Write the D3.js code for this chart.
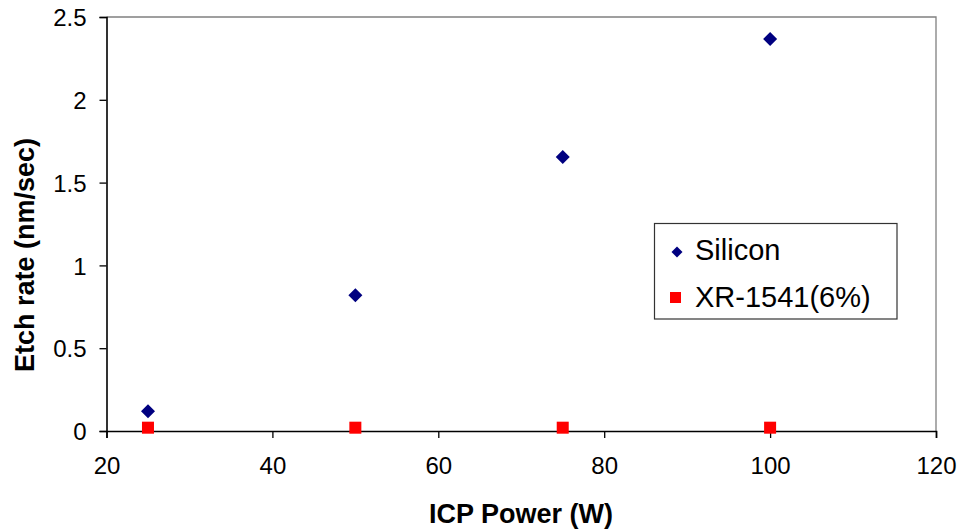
<!DOCTYPE html>
<html><head><meta charset="utf-8">
<script src="https://cdn.jsdelivr.net/npm/d3@7"></script>
<style>body{margin:0;background:#fff}svg{display:block}text{font-family:Arial,"Liberation Sans",sans-serif}</style>
</head><body>
<script>
const powers = [25, 50, 75, 100];
const silicon = [0.12, 0.82, 1.655, 2.367];
const xr1541 = [0.02, 0.02, 0.02, 0.02];
const seriesNames = ["Silicon", "XR-1541(6%)"];
const xTicks = [20, 40, 60, 80, 100, 120];
const yTicks = [0, 0.5, 1, 1.5, 2, 2.5];

const W = 963, H = 531;
const L = 106.5, R = 936, T = 17, B = 431;
const svg = d3.select("body").append("svg").attr("width", W).attr("height", H);
const x = d3.scaleLinear().domain([20, 120]).range([L, R]);
const y = d3.scaleLinear().domain([0, 2.5]).range([B, T]);

svg.append("path").attr("d", `M${L},${T}H${R}V${B}`).attr("fill","none").attr("stroke","#808080").attr("stroke-width",1.3);

const xAxis = svg.append("g").attr("transform", `translate(0,${B})`)
  .call(d3.axisBottom(x).tickValues(xTicks).tickSize(7).tickPadding(19).tickFormat(d3.format("d")));
const yAxis = svg.append("g").attr("transform", `translate(${L},0)`)
  .call(d3.axisLeft(y).tickValues(yTicks).tickSize(7).tickPadding(13).tickFormat(d => d));
[xAxis, yAxis].forEach(g => {
  g.select(".domain").attr("stroke","#000").attr("stroke-width",1.6);
  g.selectAll(".tick line").attr("stroke","#000").attr("stroke-width",1.3);
  g.selectAll(".tick text").attr("font-size",24).attr("fill","#000").style("font-family","Arial, 'Liberation Sans', sans-serif");
});
yAxis.selectAll(".tick text").attr("dy","0.36em");

function diamondPath(s){ return `M0,${-s}L${s},0L0,${s}L${-s},0Z`; }

svg.append("g").selectAll("path").data(powers).join("path")
  .attr("d", diamondPath(7))
  .attr("transform", (d,i) => `translate(${x(d)},${y(silicon[i])})`)
  .attr("fill","#000080");
svg.append("g").selectAll("rect").data(powers).join("rect")
  .attr("x", d => x(d) - 6).attr("y", (d,i) => y(xr1541[i]) - 6)
  .attr("width",12).attr("height",12).attr("fill","#ff0000");

svg.append("text").attr("x",521).attr("y",523).attr("text-anchor","middle")
  .attr("font-size",27).attr("font-weight","bold").text("ICP Power (W)");
svg.append("text").attr("transform","translate(34,255) rotate(-90)").attr("text-anchor","middle")
  .attr("font-size",27).attr("font-weight","bold").text("Etch rate (nm/sec)");

const lg = svg.append("g");
lg.append("rect").attr("x",654.5).attr("y",223.5).attr("width",242.5).attr("height",95.5)
  .attr("fill","#fff").attr("stroke","#333").attr("stroke-width",1.2);
lg.append("path").attr("d", diamondPath(5.5)).attr("transform","translate(677,252)").attr("fill","#000080");
lg.append("rect").attr("x",670).attr("y",292).attr("width",11).attr("height",11).attr("fill","#ff0000");
lg.append("text").attr("x",695).attr("y",260).attr("font-size",29).text(seriesNames[0]);
lg.append("text").attr("x",695).attr("y",307).attr("font-size",29).text(seriesNames[1]);
</script>
</body></html>
